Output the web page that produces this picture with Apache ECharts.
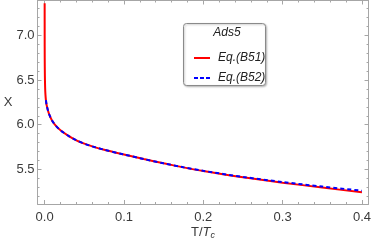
<!DOCTYPE html>
<html><head><meta charset="utf-8">
<script src="https://cdn.jsdelivr.net/npm/echarts@6/dist/echarts.min.js"></script>
<style>html,body{margin:0;padding:0;background:#fff}#c{width:374px;height:242px}</style>
</head><body><div id="c"></div>
<script>
// Data
var tB51 = [0.00002,0.00005,0.0001,0.0003,0.0006,0.001,0.0016,0.0025,0.0041,0.006,0.0091,0.014,0.0204,0.03,0.04,0.05,0.06,0.075,0.1,0.125,0.15,0.175,0.2,0.25,0.3,0.35,0.4];
var xB51 = [7.36,7.0,6.75,6.55,6.42,6.34,6.275,6.22,6.163,6.11,6.051,5.99,5.935,5.876,5.826,5.788,5.758,5.72,5.667,5.616,5.568,5.523,5.482,5.412,5.352,5.297,5.244];
var tB52 = [0.0016,0.0025,0.0041,0.006,0.0091,0.014,0.0204,0.03,0.04,0.05,0.06,0.075,0.1,0.125,0.15,0.175,0.2,0.25,0.3,0.35,0.4];
var xB52 = [6.275,6.22,6.163,6.11,6.051,5.99,5.935,5.876,5.826,5.788,5.758,5.72,5.667,5.616,5.568,5.524,5.484,5.416,5.359,5.308,5.262];
var xTicks = [0.0,0.1,0.2,0.3,0.4];
var xMinor = [0.02,0.04,0.06,0.08,0.12,0.14,0.16,0.18,0.22,0.24,0.26,0.28,0.32,0.34,0.36,0.38];
var yTicks = [5.5,6.0,6.5,7.0];
var yMinor = [5.2,5.3,5.4,5.6,5.7,5.8,5.9,6.1,6.2,6.3,6.4,6.6,6.7,6.8,6.9,7.1,7.2,7.3];
var seriesNames = ['Eq.(B51)','Eq.(B52)'];
var legendTitle = 'Ads5';

var XMIN=-0.009, XMAX=0.4083, YMIN=5.113, YMAX=7.39;
var frame='#a6a6a6', lab='#3a3a3a', FF='Liberation Sans, Arial';
function xa(pos, ticks, len, label, line){
  return {type:'value',min:XMIN,max:XMAX,position:pos,
    axisLine:{show:line,onZero:false,lineStyle:{color:frame,width:1}},
    axisTick:{show:true,inside:true,length:len,customValues:ticks,lineStyle:{color:frame}},
    axisLabel:label?{show:true,customValues:ticks,color:lab,fontSize:13,fontFamily:FF,margin:7,formatter:function(v){return v.toFixed(1);}}:{show:false},
    splitLine:{show:false}};
}
function ya(pos, ticks, len, label, line){
  return {type:'value',min:YMIN,max:YMAX,position:pos,
    axisLine:{show:line,onZero:false,lineStyle:{color:frame,width:1}},
    axisTick:{show:true,inside:true,length:len,customValues:ticks,lineStyle:{color:frame}},
    axisLabel:label?{show:true,customValues:ticks,color:lab,fontSize:13,fontFamily:FF,margin:3,formatter:function(v){return v.toFixed(1);}}:{show:false},
    splitLine:{show:false}};
}
function pairs(a,b){return a.map(function(v,i){return [v,b[i]];});}
var chart = echarts.init(document.getElementById('c'),null,{renderer:'canvas'});
chart.setOption({
  animation:false,
  grid:{left:37.5,right:3.3,top:0.5,bottom:38,containLabel:false},
  xAxis:[xa('bottom',xTicks,4,true,true),xa('bottom',xMinor,2,false,false),xa('top',xTicks,4,false,true),xa('top',xMinor,2,false,false)],
  yAxis:[ya('left',yTicks,4,true,true),ya('left',yMinor,2,false,false),ya('right',yTicks,4,false,true),ya('right',yMinor,2,false,false)],
  legend:{show:true,orient:'vertical',left:189,top:46,itemWidth:16,itemHeight:2,itemGap:6,
    data:[{name:seriesNames[0],icon:'rect',itemStyle:{color:'#ff0000'}},
          {name:seriesNames[1],icon:'path://M0,0h4v2h-4z M6,0h4v2h-4z M12,0h4v2h-4z',itemStyle:{color:'#0000ff'}}],
    textStyle:{fontSize:12,fontStyle:'italic',color:'#222',fontFamily:FF,lineHeight:14,padding:[0,0,0,3]}},
  graphic:[
    {type:'rect',shape:{x:183.5,y:23.5,width:82,height:62,r:3},style:{fill:'#fff',stroke:'#8a8a8a',lineWidth:1,shadowBlur:2,shadowColor:'rgba(0,0,0,0.25)',shadowOffsetX:1,shadowOffsetY:1},z:-1},
    {type:'text',x:227,y:33,style:{text:legendTitle,fontSize:12,fontStyle:'italic',fill:'#222',fontFamily:FF,align:'center',verticalAlign:'middle'}},
    {type:'text',x:203,y:232,style:{rich:{a:{fontSize:13,fill:lab,fontFamily:FF},b:{fontSize:13,fontStyle:'italic',fill:lab,fontFamily:FF},s:{fontSize:9,fontStyle:'italic',fill:lab,fontFamily:FF,padding:[6,0,0,0]}},text:'{a|T/}{b|T}{s|c}',align:'center',verticalAlign:'middle'}},
    {type:'text',x:8,y:102,style:{text:'X',fontSize:13,fill:lab,fontFamily:FF,align:'center',verticalAlign:'middle'}}
  ],
  series:[
    {name:seriesNames[0],type:'line',xAxisIndex:0,yAxisIndex:0,data:pairs(tB51,xB51),showSymbol:false,smooth:0.3,lineStyle:{color:'#ff0000',width:2},itemStyle:{color:'#ff0000'},z:2},
    {name:seriesNames[1],type:'line',xAxisIndex:0,yAxisIndex:0,data:pairs(tB52,xB52),showSymbol:false,smooth:0.3,lineStyle:{color:'#0000ff',width:2,type:[4,3]},itemStyle:{color:'#0000ff'},z:3}
  ]
});
</script></body></html>
